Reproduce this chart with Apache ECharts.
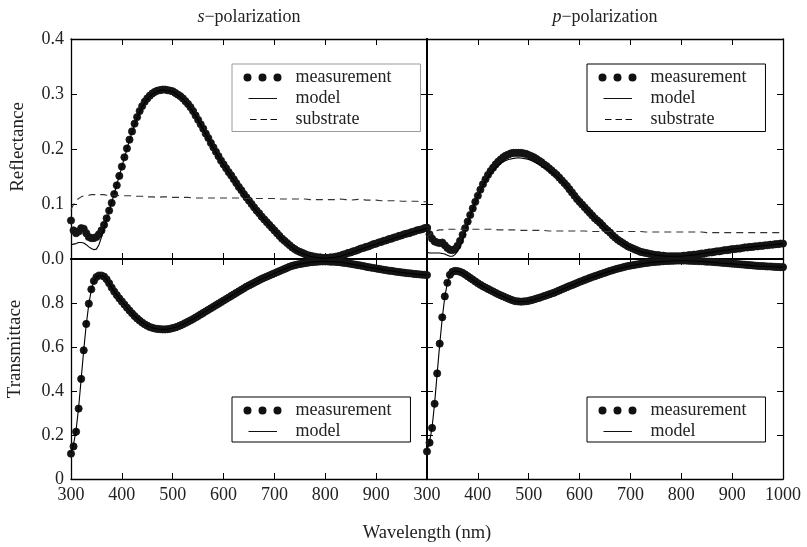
<!DOCTYPE html>
<html>
<head>
<meta charset="utf-8">
<script src="https://cdn.jsdelivr.net/npm/echarts@6/dist/echarts.min.js"></script>
<style>html,body{margin:0;padding:0;background:#fff}#c{width:807px;height:547px}</style>
</head>
<body>
<div id="c"></div>
<script>
// ---------------- data ----------------
const wavelengths = [
300,305,310,315,320,325,330,335,340,345,
350,355,360,365,370,375,380,385,390,395,
400,405,410,415,420,425,430,435,440,445,
450,455,460,465,470,475,480,485,490,495,
500,505,510,515,520,525,530,535,540,545,
550,555,560,565,570,575,580,585,590,595,
600,605,610,615,620,625,630,635,640,645,
650,655,660,665,670,675,680,685,690,695,
700,705,710,715,720,725,730,735,740,745,
750,755,760,765,770,775,780,785,790,795,
800,805,810,815,820,825,830,835,840,845,
850,855,860,865,870,875,880,885,890,895,
900,905,910,915,920,925,930,935,940,945,
950,955,960,965,970,975,980,985,990,995,
1000];

const wavelengthsModel = [
300,305,310,315,320,325,330,335,340,345,350,
355,360,365,370,375,380,385,390,395,400,
410,420,430,440,450,460,470,480,490,500,
510,520,530,540,550,560,570,580,590,600,
610,620,630,640,650,660,670,680,690,700,
710,720,730,740,750,760,770,780,790,800,
810,820,830,840,850,860,870,880,890,900,
910,920,930,940,950,960,970,980,990,1000];

// s-polarization reflectance (measurement)
const rsMeasurement = [
0.070,0.052,0.047,0.050,0.056,0.055,0.047,0.040,0.038,0.038,
0.040,0.045,0.052,0.062,0.074,0.088,0.102,0.118,0.134,0.151,
0.168,0.185,0.201,0.217,0.232,0.246,0.258,0.269,0.278,0.286,
0.292,0.297,0.301,0.304,0.306,0.307,0.308,0.308,0.307,0.306,
0.305,0.302,0.299,0.296,0.292,0.287,0.282,0.276,0.269,0.261,
0.253,0.245,0.237,0.228,0.220,0.211,0.203,0.195,0.187,0.179,
0.172,0.165,0.158,0.152,0.145,0.138,0.131,0.125,0.118,0.112,
0.106,0.100,0.094,0.088,0.083,0.077,0.072,0.067,0.062,0.057,
0.052,0.047,0.042,0.037,0.033,0.029,0.025,0.021,0.018,0.015,
0.013,0.011,0.009,0.007,0.006,0.005,0.004,0.003,0.003,0.002,
0.002,0.002,0.003,0.003,0.004,0.005,0.006,0.008,0.009,0.011,
0.012,0.014,0.015,0.017,0.019,0.020,0.022,0.023,0.025,0.027,
0.028,0.030,0.031,0.033,0.034,0.036,0.037,0.039,0.040,0.042,
0.043,0.045,0.046,0.047,0.049,0.050,0.052,0.053,0.054,0.056,
0.057];

// s-polarization transmittance (measurement)
const tsMeasurement = [
0.115,0.148,0.215,0.320,0.455,0.585,0.705,0.797,0.862,0.900,
0.918,0.925,0.925,0.920,0.908,0.890,0.870,0.852,0.836,0.821,
0.807,0.793,0.779,0.766,0.753,0.741,0.730,0.720,0.711,0.703,
0.697,0.691,0.687,0.684,0.682,0.681,0.680,0.680,0.681,0.683,
0.686,0.689,0.693,0.698,0.703,0.709,0.715,0.721,0.727,0.734,
0.741,0.748,0.755,0.762,0.769,0.776,0.783,0.790,0.797,0.804,
0.811,0.818,0.825,0.832,0.839,0.846,0.853,0.860,0.867,0.874,
0.880,0.886,0.892,0.898,0.904,0.910,0.915,0.920,0.925,0.930,
0.935,0.940,0.945,0.950,0.955,0.960,0.965,0.969,0.972,0.975,
0.977,0.979,0.981,0.983,0.985,0.986,0.987,0.988,0.989,0.989,
0.989,0.989,0.988,0.988,0.987,0.986,0.985,0.983,0.982,0.980,
0.978,0.976,0.974,0.972,0.970,0.968,0.965,0.963,0.961,0.959,
0.957,0.955,0.953,0.951,0.949,0.947,0.946,0.944,0.942,0.941,
0.939,0.938,0.936,0.935,0.934,0.932,0.931,0.930,0.929,0.928,
0.927];

// p-polarization reflectance (measurement)
const rpMeasurement = [
0.056,0.045,0.037,0.032,0.030,0.029,0.030,0.025,0.020,0.017,
0.016,0.018,0.024,0.033,0.044,0.056,0.068,0.080,0.092,0.104,
0.115,0.126,0.136,0.145,0.153,0.160,0.166,0.172,0.177,0.181,
0.185,0.188,0.190,0.192,0.193,0.193,0.193,0.193,0.192,0.191,
0.189,0.187,0.185,0.182,0.179,0.176,0.172,0.169,0.165,0.161,
0.157,0.153,0.148,0.143,0.138,0.133,0.127,0.121,0.115,0.109,
0.104,0.099,0.094,0.089,0.084,0.079,0.074,0.070,0.066,0.061,
0.056,0.052,0.048,0.043,0.039,0.035,0.032,0.029,0.026,0.023,
0.021,0.019,0.017,0.015,0.013,0.012,0.011,0.010,0.009,0.008,
0.007,0.007,0.006,0.006,0.005,0.005,0.005,0.005,0.005,0.005,
0.005,0.006,0.006,0.007,0.007,0.008,0.008,0.009,0.010,0.010,
0.011,0.012,0.012,0.013,0.014,0.014,0.015,0.016,0.016,0.017,
0.018,0.018,0.019,0.019,0.020,0.021,0.021,0.022,0.022,0.023,
0.023,0.024,0.024,0.025,0.025,0.026,0.026,0.027,0.027,0.028,
0.028];

// p-polarization transmittance (measurement)
const tpMeasurement = [
0.125,0.165,0.232,0.342,0.480,0.615,0.735,0.830,0.892,0.928,
0.942,0.946,0.945,0.942,0.937,0.930,0.922,0.914,0.906,0.898,
0.890,0.883,0.876,0.870,0.864,0.858,0.852,0.846,0.840,0.835,
0.830,0.825,0.820,0.815,0.811,0.808,0.807,0.806,0.807,0.808,
0.810,0.813,0.816,0.820,0.823,0.827,0.831,0.835,0.839,0.843,
0.847,0.852,0.857,0.862,0.867,0.872,0.877,0.881,0.886,0.891,
0.896,0.900,0.905,0.909,0.914,0.918,0.922,0.926,0.930,0.934,
0.938,0.942,0.946,0.949,0.953,0.956,0.959,0.962,0.965,0.968,
0.970,0.972,0.974,0.976,0.978,0.980,0.982,0.983,0.985,0.986,
0.987,0.988,0.989,0.990,0.991,0.991,0.992,0.992,0.993,0.993,
0.993,0.993,0.993,0.992,0.992,0.991,0.991,0.990,0.990,0.989,
0.988,0.988,0.987,0.986,0.985,0.984,0.983,0.982,0.981,0.980,
0.979,0.978,0.977,0.976,0.975,0.974,0.973,0.972,0.971,0.970,
0.969,0.968,0.968,0.967,0.966,0.966,0.965,0.964,0.964,0.963,
0.963];

// models (on wavelengthsModel)
const rsModel = [
0.026,0.027,0.028,0.030,0.030,0.029,0.026,0.022,0.019,0.017,0.018,
0.026,0.040,0.056,0.072,0.088,0.103,0.119,0.135,0.151,0.168,
0.200,0.231,0.257,0.277,0.291,0.300,0.305,0.307,0.306,0.304,
0.298,0.291,0.281,0.268,0.252,0.236,0.219,0.202,0.186,0.171,
0.157,0.144,0.130,0.117,0.105,0.093,0.082,0.071,0.061,0.051,
0.041,0.032,0.024,0.017,0.012,0.008,0.005,0.003,0.002,0.001,
0.002,0.003,0.005,0.008,0.011,0.014,0.018,0.021,0.024,0.027,
0.030,0.033,0.036,0.039,0.042,0.045,0.048,0.051,0.053,0.056];

const rpModel = [
0.012,0.011,0.011,0.011,0.011,0.011,0.010,0.009,0.007,0.005,0.005,
0.008,0.014,0.022,0.034,0.048,0.063,0.078,0.091,0.103,0.114,
0.133,0.149,0.161,0.170,0.177,0.181,0.183,0.184,0.183,0.181,
0.177,0.172,0.167,0.161,0.154,0.146,0.137,0.126,0.115,0.104,
0.094,0.084,0.074,0.066,0.056,0.048,0.039,0.032,0.026,0.021,
0.017,0.013,0.011,0.009,0.007,0.006,0.005,0.005,0.005,0.005,
0.006,0.007,0.008,0.010,0.011,0.012,0.014,0.015,0.016,0.018,
0.019,0.020,0.021,0.022,0.023,0.024,0.025,0.026,0.027,0.028];

const tsModel = [
0.118,0.158,0.222,0.325,0.455,0.585,0.702,0.795,0.860,0.898,0.917,
0.924,0.924,0.919,0.907,0.890,0.870,0.852,0.836,0.821,0.807,
0.779,0.753,0.730,0.711,0.697,0.687,0.682,0.680,0.681,0.686,
0.693,0.703,0.715,0.727,0.741,0.755,0.769,0.783,0.797,0.811,
0.825,0.839,0.853,0.867,0.880,0.892,0.904,0.915,0.925,0.935,
0.945,0.955,0.965,0.972,0.977,0.981,0.985,0.987,0.989,0.989,
0.988,0.987,0.985,0.982,0.978,0.974,0.970,0.965,0.961,0.957,
0.953,0.949,0.946,0.942,0.939,0.936,0.934,0.931,0.929,0.927];

const tpModel = [
0.128,0.168,0.235,0.345,0.480,0.612,0.732,0.828,0.890,0.926,0.941,
0.945,0.944,0.941,0.936,0.929,0.921,0.913,0.905,0.897,0.889,
0.875,0.863,0.851,0.839,0.829,0.819,0.810,0.806,0.806,0.809,
0.815,0.822,0.830,0.838,0.846,0.856,0.866,0.876,0.885,0.895,
0.904,0.913,0.921,0.929,0.937,0.945,0.952,0.958,0.964,0.969,
0.973,0.977,0.981,0.984,0.986,0.988,0.990,0.991,0.992,0.992,
0.992,0.991,0.990,0.989,0.987,0.985,0.983,0.981,0.979,0.978,
0.976,0.974,0.972,0.970,0.968,0.967,0.966,0.965,0.964,0.963];

// substrate reflectance (on wavelengthsModel)
const rsSubstrate = [
0.090,0.099,0.106,0.110,0.113,0.115,0.116,0.116,0.117,0.117,0.117,
0.117,0.117,0.117,0.116,0.116,0.116,0.116,0.116,0.115,0.115,
0.115,0.115,0.114,0.114,0.113,0.113,0.112,0.113,0.113,0.112,
0.112,0.112,0.112,0.111,0.111,0.111,0.111,0.111,0.111,0.111,
0.111,0.111,0.111,0.110,0.110,0.110,0.110,0.110,0.110,0.110,
0.109,0.109,0.109,0.109,0.109,0.109,0.108,0.108,0.108,0.108,
0.108,0.108,0.109,0.108,0.107,0.108,0.109,0.107,0.107,0.107,
0.106,0.106,0.106,0.106,0.105,0.105,0.105,0.105,0.104,0.104];

const rpSubstrate = [
0.039,0.044,0.048,0.050,0.052,0.053,0.053,0.054,0.054,0.054,0.054,
0.054,0.054,0.054,0.054,0.054,0.054,0.054,0.054,0.054,0.054,
0.054,0.054,0.054,0.053,0.053,0.053,0.053,0.052,0.052,0.052,
0.052,0.052,0.052,0.051,0.051,0.051,0.051,0.051,0.051,0.051,
0.051,0.050,0.050,0.050,0.050,0.050,0.050,0.050,0.050,0.050,
0.050,0.050,0.049,0.049,0.049,0.049,0.049,0.049,0.049,0.049,
0.049,0.049,0.049,0.049,0.048,0.048,0.048,0.048,0.048,0.048,
0.048,0.048,0.048,0.048,0.048,0.048,0.048,0.048,0.048,0.048];

const panelTitles = ['s', 'p'];
const xAxisTitle = 'Wavelength (nm)';
const yAxisTitles = ['Reflectance', 'Transmittace'];
const legendNamesR = ['measurement', 'model', 'substrate'];
const legendNamesT = ['measurement', 'model'];

// ---------------- chart ----------------
const FONT = 'Liberation Serif';
const INK = '#141414';
const pair = (xs, ys) => xs.map((x, i) => [x, ys[i]]);

const grids = [
  { left: 71,  top: 39,  width: 356, height: 220 },
  { left: 427, top: 39,  width: 356, height: 220 },
  { left: 71,  top: 259, width: 356, height: 220 },
  { left: 427, top: 259, width: 356, height: 220 }
];

const tick = { show: true, inside: true, length: 6, lineStyle: { color: '#000', width: 1 } };
const line = w => ({ show: true, onZero: false, lineStyle: { color: '#000', width: w } });

const xAxes = [];
const yAxes = [];
// bottom x axes 0..3
for (let g = 0; g < 4; g++) {
  const isBottom = g >= 2;
  xAxes.push({
    type: 'value', gridIndex: g, min: 300, max: 1000, interval: 100, position: 'bottom',
    axisLine: line(isBottom ? 1.3 : 2), axisTick: tick, splitLine: { show: false },
    axisLabel: {
      show: isBottom, margin: 7, fontFamily: FONT, fontSize: 18, color: '#222',
      showMaxLabel: g === 3, showMinLabel: true,
      formatter: v => String(Math.round(v))
    }
  });
}
// top x axes 4..7
for (let g = 0; g < 4; g++) {
  const isTop = g < 2;
  const ax = {
    type: 'value', gridIndex: g, min: 300, max: 1000, interval: 100, position: 'top',
    axisLine: line(isTop ? 1.3 : 2), axisTick: tick, splitLine: { show: false },
    axisLabel: { show: false }
  };
  if (isTop) {
    ax.name = '{i|' + panelTitles[g] + '}\u2212polarization';
    ax.nameLocation = 'middle';
    ax.nameGap = 13;
    ax.nameTextStyle = {
      fontFamily: FONT, fontSize: 18, color: '#222',
      rich: { i: { fontFamily: FONT, fontSize: 18, fontStyle: 'italic', color: '#222' } }
    };
  }
  xAxes.push(ax);
}
// left y axes 0..3
for (let g = 0; g < 4; g++) {
  const isR = g < 2;
  yAxes.push({
    type: 'value', gridIndex: g, min: 0, max: isR ? 0.4 : 1, interval: isR ? 0.1 : 0.2, position: 'left',
    axisLine: line(g % 2 === 0 ? 1.3 : 2), axisTick: tick, splitLine: { show: false },
    axisLabel: {
      show: g % 2 === 0, margin: 7, fontFamily: FONT, fontSize: 18, color: '#222',
      showMaxLabel: isR,
      formatter: v => (isR ? v.toFixed(1) : (v === 0 ? '0' : v.toFixed(1)))
    }
  });
}
// right y axes 4..7
for (let g = 0; g < 4; g++) {
  const isR = g < 2;
  yAxes.push({
    type: 'value', gridIndex: g, min: 0, max: isR ? 0.4 : 1, interval: isR ? 0.1 : 0.2, position: 'right',
    axisLine: line(g % 2 === 1 ? 1.3 : 2), axisTick: tick, splitLine: { show: false },
    axisLabel: { show: false }
  });
}

function measurement(g, ys) {
  return { type: 'scatter', name: 'measurement', xAxisIndex: g, yAxisIndex: g, data: pair(wavelengths, ys),
    symbol: 'circle', symbolSize: 7.2,
    itemStyle: { color: INK, opacity: 1, borderWidth: 0.8, borderColor: INK, shadowBlur: 0 },
    emphasis: { disabled: true }, clip: false, z: 2, silent: true };
}
function model(g, ys) {
  return { type: 'line', name: 'model', xAxisIndex: g, yAxisIndex: g, data: pair(wavelengthsModel, ys),
    showSymbol: false, symbol: 'none', lineStyle: { color: '#000', width: 1.1 }, itemStyle: { color: INK },
    clip: false, z: 3, silent: true };
}
function substrate(g, ys) {
  return { type: 'line', name: 'substrate', xAxisIndex: g, yAxisIndex: g, data: pair(wavelengthsModel, ys),
    showSymbol: false, symbol: 'none', lineStyle: { color: '#333', width: 1.1, type: [7, 5] }, itemStyle: { color: INK },
    clip: false, z: 3, silent: true };
}

const ICONS = {
  measurement: 'path://M0 0L0 0ZM38 14L38 14ZM0 7a4 4 0 1 0 8 0a4 4 0 1 0 -8 0ZM15 7a4 4 0 1 0 8 0a4 4 0 1 0 -8 0ZM30 7a4 4 0 1 0 8 0a4 4 0 1 0 -8 0Z',
  model: 'path://M0 0L0 0ZM38 14L38 14ZM5 6.4L33.5 6.4L33.5 7.6L5 7.6Z',
  substrate: 'path://M0 0L0 0ZM38 14L38 14ZM6.5 6.4L13 6.4L13 7.6L6.5 7.6ZM17 6.4L23.5 6.4L23.5 7.6L17 7.6ZM27 6.4L33.5 6.4L33.5 7.6L27 7.6Z'
};
function legend(left, top, names, padRight, padBottom, borderColor) {
  return {
    orient: 'vertical', left: left, top: top, itemWidth: 38, itemHeight: 14, itemGap: 3,
    padding: [4.5, padRight, padBottom, 11.5], borderColor: borderColor, borderWidth: 1, backgroundColor: '#fff',
    selectedMode: false, z: 6,
    textStyle: { fontFamily: FONT, fontSize: 18, color: '#222', padding: [0, 0, 0, 9] },
    itemStyle: { color: '#111', borderWidth: 0, opacity: 1 },
    data: names.map(n => ({ name: n, icon: ICONS[n] }))
  };
}

const option = {
  animation: false,
  backgroundColor: '#fff',
  grid: grids,
  xAxis: xAxes,
  yAxis: yAxes,
  legend: [
    legend(232, 64, legendNamesR, 29, 3, '#9a9a9a'),
    legend(587, 64, legendNamesR, 19, 3, '#000'),
    legend(232, 397, legendNamesT, 19, 1.5, '#000'),
    legend(587, 397, legendNamesT, 19, 1.5, '#000')
  ],
  series: [
    measurement(0, rsMeasurement), model(0, rsModel), substrate(0, rsSubstrate),
    measurement(1, rpMeasurement), model(1, rpModel), substrate(1, rpSubstrate),
    measurement(2, tsMeasurement), model(2, tsModel),
    measurement(3, tpMeasurement), model(3, tpModel)
  ],
  graphic: [
    { type: 'text', x: 18.3, y: 147, rotation: Math.PI / 2, silent: true,
      style: { text: yAxisTitles[0], font: '19px "Liberation Serif"', fill: '#222', textAlign: 'center', verticalAlign: 'middle' } },
    { type: 'text', x: 15.5, y: 349, rotation: Math.PI / 2, silent: true,
      style: { text: yAxisTitles[1], font: '19px "Liberation Serif"', fill: '#222', textAlign: 'center', verticalAlign: 'middle' } },
    { type: 'text', x: 427, y: 533, silent: true,
      style: { text: xAxisTitle, font: '18.5px "Liberation Serif"', fill: '#222', textAlign: 'center', verticalAlign: 'middle' } }
  ]
};

const chart = echarts.init(document.getElementById('c'), null, { renderer: 'canvas' });
chart.setOption(option);
</script>
</body>
</html>
